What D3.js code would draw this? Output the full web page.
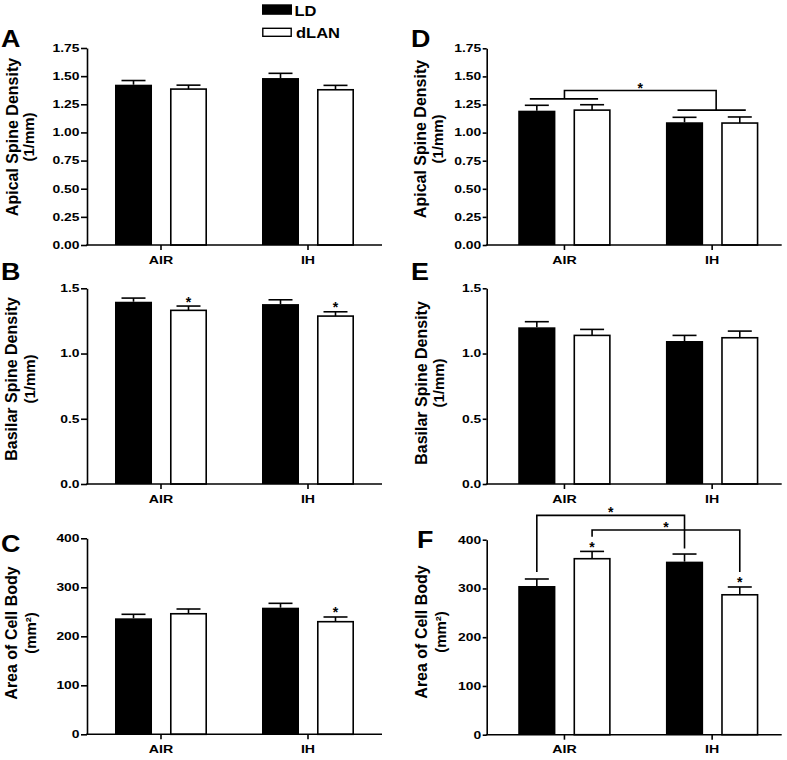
<!DOCTYPE html>
<html><head><meta charset="utf-8">
<script src="https://cdn.jsdelivr.net/npm/d3@7"></script>
<style>
body{margin:0;background:#fff}
svg{display:block}
text{font-family:"Liberation Sans",Arial,Helvetica,sans-serif;font-weight:bold;fill:#000}
</style>
</head><body>
<svg id="chart" width="787" height="760"></svg>
<script>
// ---------- data ----------
const groups = ["AIR", "IH"];
const seriesNames = ["LD", "dLAN"];

const apicalTicks = [0, 0.25, 0.5, 0.75, 1.0, 1.25, 1.5, 1.75];
const basilarTicks = [0, 0.5, 1.0, 1.5];
const areaTicks = [0, 100, 200, 300, 400];

// Panel A (apical, left)
const A_LD = [1.424, 1.483];
const A_LD_sem = [0.037, 0.042];
const A_dLAN = [1.385, 1.379];
const A_dLAN_sem = [0.035, 0.039];
// Panel B (basilar, left)
const B_LD = [1.397, 1.379];
const B_LD_sem = [0.028, 0.033];
const B_dLAN = [1.331, 1.287];
const B_dLAN_sem = [0.033, 0.033];
// Panel C (cell body, left)
const C_LD = [236.7, 258.4];
const C_LD_sem = [8.2, 8.9];
const C_dLAN = [246.0, 229.8];
const C_dLAN_sem = [9.7, 9.6];
// Panel D (apical, right)
const D_LD = [1.195, 1.092];
const D_LD_sem = [0.048, 0.044];
const D_dLAN = [1.200, 1.085];
const D_dLAN_sem = [0.048, 0.054];
// Panel E (basilar, right)
const E_LD = [1.201, 1.096];
const E_LD_sem = [0.043, 0.043];
const E_dLAN = [1.139, 1.121];
const E_dLAN_sem = [0.046, 0.051];
// Panel F (cell body, right)
const F_LD = [305, 355];
const F_LD_sem = [14.4, 15.6];
const F_dLAN = [361, 287];
const F_dLAN_sem = [15.0, 16.0];

// single-bar asterisks: [group, series]
const B_stars = [["AIR", "dLAN"], ["IH", "dLAN"]];
const C_stars = [["IH", "dLAN"]];
const F_stars = [["AIR", "dLAN"], ["IH", "dLAN"]];

// D: group-level comparison (values in data units)
const D_groupLines = [["AIR", 1.30], ["IH", 1.20]];
const D_groupBracketTop = 1.375;
// F: pairwise brackets [fromGroup, fromSeries, fromY, toGroup, toSeries, toY, topY]
const F_brackets = [
  ["AIR", "LD", 334, "IH", "LD", 382, 450],
  ["AIR", "dLAN", 406, "IH", "dLAN", 334, 420]
];

// ---------- layout ----------
const svg = d3.select("#chart");
const cols = [
  {axisX: 87, xEnd: 382, band: [87.5, 381.5], tickSize: 6, tickPad: 1.5},
  {axisX: 486.7, xEnd: 781.7, band: [490.6, 786], tickSize: 4, tickPad: 1.5}
];
const panels = [
  {id: "A", col: 0, y0: 245, yTop: 48, ld: A_LD, ldE: A_LD_sem, dl: A_dLAN, dlE: A_dLAN_sem,
   ticks: apicalTicks, fmt: ".2f", title: ["Apical Spine Density", "(1/mm)"],
   tx: [17.5, 33.5], ty: 137, lx: 1, ly: 47, stars: []},
  {id: "B", col: 0, y0: 484, yTop: 288.3, ld: B_LD, ldE: B_LD_sem, dl: B_dLAN, dlE: B_dLAN_sem,
   ticks: basilarTicks, fmt: ".1f", title: ["Basilar Spine Density", "(1/mm)"],
   tx: [17, 35], ty: 379, lx: 1, ly: 280, stars: B_stars},
  {id: "C", col: 0, y0: 734.3, yTop: 538.3, ld: C_LD, ldE: C_LD_sem, dl: C_dLAN, dlE: C_dLAN_sem,
   ticks: areaTicks, fmt: "d", title: ["Area of Cell Body", "(mm²)"],
   tx: [17, 36], ty: 633, lx: 1, ly: 552, stars: C_stars},
  {id: "D", col: 1, y0: 245, yTop: 48.3, ld: D_LD, ldE: D_LD_sem, dl: D_dLAN, dlE: D_dLAN_sem,
   ticks: apicalTicks, fmt: ".2f", title: ["Apical Spine Density", "(1/mm)"],
   tx: [426, 442.5], ty: 139, lx: 411, ly: 47, stars: []},
  {id: "E", col: 1, y0: 484, yTop: 288.3, ld: E_LD, ldE: E_LD_sem, dl: E_dLAN, dlE: E_dLAN_sem,
   ticks: basilarTicks, fmt: ".1f", title: ["Basilar Spine Density", "(1/mm)"],
   tx: [427, 444], ty: 383, lx: 411, ly: 280, stars: []},
  {id: "F", col: 1, y0: 734.7, yTop: 539.7, ld: F_LD, ldE: F_LD_sem, dl: F_dLAN, dlE: F_dLAN_sem,
   ticks: areaTicks, fmt: "d", title: ["Area of Cell Body", "(mm²)"],
   tx: [427, 446], ty: 632, lx: 417, ly: 548, stars: F_stars}
];

const SW = 1.6;
const TICK_SX = 1.32;

panels.forEach(p => {
  const c = cols[p.col];
  const g = svg.append("g");
  const x0 = d3.scaleBand().domain(groups).range(c.band).paddingInner(0).paddingOuter(0);
  const x1 = d3.scaleBand().domain(seriesNames).range([0, x0.bandwidth()]).paddingInner(0.327).paddingOuter(0.5);
  const y = d3.scaleLinear().domain([0, d3.max(p.ticks)]).range([p.y0, p.yTop]);

  const rows = [];
  groups.forEach((gr, i) => {
    rows.push({group: gr, s: "LD", v: p.ld[i], e: p.ldE[i]});
    rows.push({group: gr, s: "dLAN", v: p.dl[i], e: p.dlE[i]});
  });
  const cx = (gr, s) => x0(gr) + x1(s) + x1.bandwidth() / 2;

  // error bars (upper only)
  const eb = g.append("g").attr("stroke", "#000").attr("stroke-width", SW).attr("fill", "none");
  rows.forEach(d => {
    const xc = cx(d.group, d.s);
    eb.append("line").attr("x1", xc).attr("x2", xc).attr("y1", y(d.v)).attr("y2", y(d.v + d.e));
    eb.append("line").attr("x1", xc - 12).attr("x2", xc + 12).attr("y1", y(d.v + d.e)).attr("y2", y(d.v + d.e));
  });

  // bars
  g.append("g").selectAll("rect").data(rows).join("rect")
    .attr("x", d => x0(d.group) + x1(d.s) + (d.s === "dLAN" ? SW / 2 : 0))
    .attr("width", d => x1.bandwidth() - (d.s === "dLAN" ? SW : 0))
    .attr("y", d => y(d.v))
    .attr("height", d => y(0) - y(d.v))
    .attr("fill", d => d.s === "LD" ? "#000" : "#fff")
    .attr("stroke", "#000")
    .attr("stroke-width", d => d.s === "LD" ? 0 : SW);

  // y axis
  const yAxis = d3.axisLeft(y).tickValues(p.ticks).tickFormat(d3.format(p.fmt))
    .tickSize(c.tickSize).tickSizeOuter(0).tickPadding(c.tickPad);
  const ya = g.append("g").attr("transform", `translate(${c.axisX},0)`).call(yAxis);
  ya.selectAll("path,line").attr("stroke", "#000").attr("stroke-width", SW);
  ya.selectAll("text")
    .attr("x", 0)
    .attr("transform", `translate(${-(c.tickSize + c.tickPad)},0) scale(${TICK_SX},1)`)
    .style("font-size", "10.5px").attr("fill", "#000");

  // x axis
  const xAxis = d3.axisBottom(x0).tickSize(5).tickSizeOuter(0).tickPadding(3);
  const xa = g.append("g").attr("transform", `translate(0,${p.y0})`).call(xAxis);
  xa.select(".domain").remove();
  xa.selectAll("line").attr("stroke", "#000").attr("stroke-width", SW);
  xa.selectAll(".tick text")
    .attr("y", 0).attr("dy", null)
    .attr("transform", `translate(0,18.5) scale(1.35,1)`)
    .style("font-size", "10.5px").attr("fill", "#000");
  g.append("line").attr("x1", c.axisX - SW / 2).attr("x2", c.xEnd)
    .attr("y1", p.y0).attr("y2", p.y0).attr("stroke", "#000").attr("stroke-width", SW);

  // y title
  p.title.forEach((t, i) => {
    g.append("text")
      .attr("transform", `translate(${p.tx[i]},${p.ty}) rotate(-90)`)
      .attr("text-anchor", "middle")
      .style("font-size", i === 0 ? "16px" : "15px")
      .text(t);
  });

  // panel letter
  g.append("text").attr("transform", `translate(${p.lx},${p.ly}) scale(1.12,1)`)
    .style("font-size", "24px").text(p.id);

  // asterisks over bars
  p.stars.forEach(([gr, s]) => {
    const d = rows.find(r => r.group === gr && r.s === s);
    g.append("text").attr("x", cx(gr, s)).attr("y", y(d.v + d.e) + 0.5)
      .attr("text-anchor", "middle").style("font-size", "14px").text("*");
  });

  // D group comparison
  if (p.id === "D") {
    const bg = g.append("g").attr("stroke", "#000").attr("stroke-width", SW).attr("fill", "none");
    D_groupLines.forEach(([gr, v]) => {
      bg.append("line").attr("x1", cx(gr, "LD") - 7).attr("x2", cx(gr, "dLAN") + 6)
        .attr("y1", y(v)).attr("y2", y(v));
    });
    const gx = gr => x0(gr) + x0.bandwidth() / 2;
    const [l, r] = D_groupLines;
    bg.append("path").attr("d",
      `M${gx(l[0])},${y(l[1])}V${y(D_groupBracketTop)}H${gx(r[0]) + 4}V${y(r[1])}`);
    g.append("text").attr("x", (gx(l[0]) + gx(r[0]) + 4) / 2).attr("y", y(D_groupBracketTop) + 2.5)
      .attr("text-anchor", "middle").style("font-size", "14px").text("*");
  }

  // F pairwise brackets
  if (p.id === "F") {
    const bg = g.append("g").attr("stroke", "#000").attr("stroke-width", SW).attr("fill", "none");
    F_brackets.forEach(([g1, s1, v1, g2, s2, v2, top]) => {
      const xa1 = cx(g1, s1), xb = cx(g2, s2);
      bg.append("path").attr("d", `M${xa1},${y(v1)}V${y(top)}H${xb}V${y(v2)}`);
      g.append("text").attr("x", (xa1 + xb) / 2).attr("y", y(top) + 2)
        .attr("text-anchor", "middle").style("font-size", "14px").text("*");
    });
  }
});

// legend
const legendItems = seriesNames.map((s, i) => ({s, i}));
const lg = svg.append("g");
lg.selectAll("rect").data(legendItems).join("rect")
  .attr("x", d => d.s === "LD" ? 262 : 262.8)
  .attr("y", d => d.i === 0 ? 4.3 : 28.3)
  .attr("width", d => d.s === "LD" ? 30 : 28.4)
  .attr("height", d => d.s === "LD" ? 10.5 : 8)
  .attr("fill", d => d.s === "LD" ? "#000" : "#fff")
  .attr("stroke", "#000").attr("stroke-width", d => d.s === "LD" ? 0 : 1.4);
lg.selectAll("text").data(legendItems).join("text")
  .attr("transform", d => `translate(${d.i === 0 ? 294.5 : 296},${d.i === 0 ? 15.5 : 37.5}) scale(1.1,1)`)
  .style("font-size", "15px")
  .text(d => d.s);
</script>
</body></html>
